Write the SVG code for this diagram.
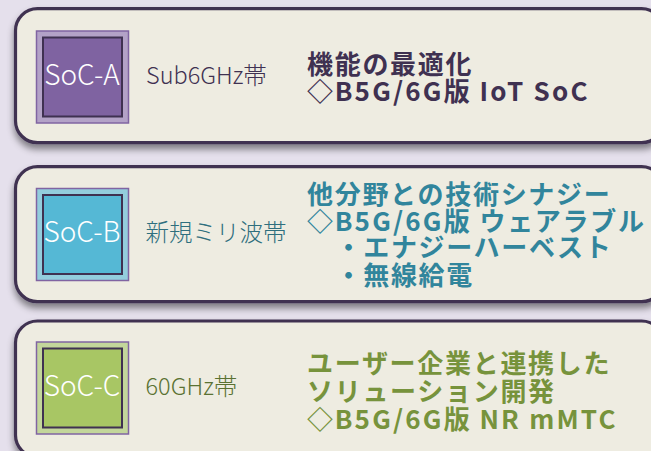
<svg xmlns="http://www.w3.org/2000/svg" width="651" height="451" viewBox="0 0 651 451">
<defs>
<filter id="sh" x="-5%" y="-10%" width="110%" height="130%">
<feDropShadow dx="0" dy="5" stdDeviation="3.5" flood-color="#000" flood-opacity="0.45"/>
</filter>
<style>
.panel{fill:#EEECE1;stroke:#3F3151;stroke-width:3.2;filter:url(#sh)}
.outer{stroke:#8064A2;stroke-width:1.5}
.inner{stroke:#3F3151;stroke-width:2}
.soc{font-family:"Noto Sans CJK JP","Noto Sans",sans-serif;font-size:28px;font-weight:300;fill:#FFFFFF;text-anchor:middle}
.band{font-family:"Noto Sans CJK JP","Noto Sans",sans-serif;font-size:23.5px;font-weight:300}
.desc{font-family:"Noto Sans CJK JP","Noto Sans",sans-serif;font-size:26px;font-weight:700;letter-spacing:1.7px}
.lat{letter-spacing:2.2px}
</style>
</defs>
<rect width="651" height="451" fill="#E5E0EC"/>
<g id="panel-a">
<rect class="panel" x="15.5" y="8.7" width="648" height="134" rx="22"/>
<rect class="outer" x="36.5" y="31" width="92" height="92" fill="#B3A2C7"/>
<rect class="inner" x="43" y="37.5" width="79" height="79" fill="#7F63A1"/>
<text class="soc" x="82" y="85">SoC-A</text>
<text class="band" x="146" y="83.5" fill="#3F3151">Sub6GHz帯</text>
<text class="desc" fill="#3F3151"><tspan x="307" y="74">機能の最適化</tspan><tspan x="307" y="101">◇</tspan><tspan class="lat">B5G/6G</tspan><tspan>版</tspan><tspan class="lat"> IoT SoC</tspan></text>
</g>
<g id="panel-b">
<rect class="panel" x="15.5" y="166.7" width="648" height="135" rx="22"/>
<rect class="outer" x="36.5" y="188.5" width="92" height="92" fill="#93CDDD"/>
<rect class="inner" x="43" y="195" width="79" height="79" fill="#55B8D5"/>
<text class="soc" x="82" y="242">SoC-B</text>
<text class="band" x="145.5" y="240.5" fill="#2F6F7E">新規ミリ波帯</text>
<text class="desc" fill="#31859C"><tspan x="307" y="204">他分野との技術シナジー</tspan><tspan x="307" y="231">◇</tspan><tspan class="lat">B5G/6G</tspan><tspan>版</tspan><tspan class="lat"> </tspan><tspan>ウェアラブル</tspan><tspan x="335.5" y="257">・エナジーハーベスト</tspan><tspan x="335.5" y="285">・無線給電</tspan></text>
</g>
<g id="panel-c">
<rect class="panel" x="15.5" y="321" width="648" height="136" rx="22"/>
<rect class="outer" x="36.5" y="342" width="92" height="92" fill="#C3D69B"/>
<rect class="inner" x="43" y="348.5" width="79" height="79" fill="#A8C664"/>
<text class="soc" x="82" y="396">SoC-C</text>
<text class="band" x="145.5" y="395" fill="#5A7232">60GHz帯</text>
<text class="desc" fill="#77933C"><tspan x="307" y="373">ユーザー企業と連携した</tspan><tspan x="307" y="401">ソリューション開発</tspan><tspan x="307" y="429">◇</tspan><tspan class="lat">B5G/6G</tspan><tspan>版</tspan><tspan class="lat"> NR mMTC</tspan></text>
</g>
<g id="connectors"/>
</svg>
